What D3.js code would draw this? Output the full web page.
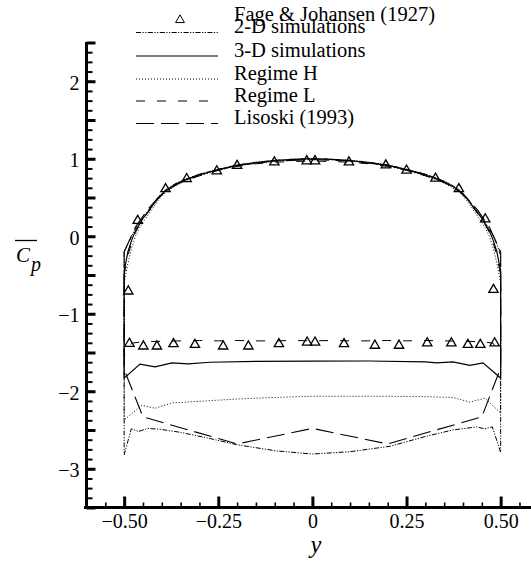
<!DOCTYPE html>
<html><head><meta charset="utf-8">
<script src="https://cdn.jsdelivr.net/npm/d3@7"></script>
<style>body{margin:0;background:#fff} svg{display:block}</style>
</head><body>
<script>
// ---------- DATA ----------
// front face (y from -0.5 to 0.5)
const frontY = [-0.5,-0.49,-0.48,-0.47,-0.46,-0.45,-0.43,-0.41,-0.39,-0.36,-0.33,-0.3,-0.25,-0.2,-0.15,-0.1,-0.05,0,0.05,0.1,0.15,0.2,0.25,0.3,0.33,0.36,0.39,0.41,0.43,0.45,0.46,0.47,0.48,0.49,0.5];
const sim2dFront = [-0.2,-0.1,0.0,0.1,0.17,0.24,0.37,0.5,0.6,0.69,0.75,0.8,0.865,0.92,0.955,0.98,0.995,1.005,0.995,0.98,0.955,0.92,0.865,0.8,0.75,0.69,0.6,0.5,0.37,0.24,0.17,0.1,0.0,-0.1,-0.25];
const sim3dFront = [-0.45,-0.2,-0.05,0.07,0.15,0.23,0.36,0.49,0.59,0.68,0.74,0.79,0.86,0.915,0.95,0.975,0.992,1.0,0.992,0.975,0.95,0.915,0.86,0.79,0.74,0.68,0.59,0.49,0.36,0.23,0.15,0.07,-0.05,-0.2,-0.45];
const regHFront  = [-0.6,-0.35,-0.15,0.0,0.1,0.18,0.32,0.46,0.57,0.66,0.73,0.78,0.85,0.905,0.945,0.97,0.985,0.99,0.985,0.97,0.945,0.905,0.85,0.78,0.73,0.66,0.57,0.46,0.32,0.18,0.1,0.0,-0.15,-0.35,-0.6];
const regLFront  = [-0.5,-0.25,-0.08,0.05,0.14,0.22,0.35,0.48,0.58,0.67,0.73,0.78,0.85,0.9,0.935,0.955,0.965,0.97,0.965,0.955,0.935,0.9,0.85,0.78,0.73,0.67,0.58,0.48,0.35,0.22,0.14,0.05,-0.08,-0.25,-0.5];
const lisFrontY  = [-0.5,-0.47,-0.44,-0.4,-0.35,-0.3,-0.2,-0.1,0,0.1,0.2,0.3,0.35,0.4,0.44,0.47,0.5];
const lisFront   = [-0.2,0.12,0.33,0.55,0.7,0.8,0.915,0.97,0.99,0.97,0.915,0.8,0.7,0.55,0.33,0.12,-0.2];

// rear face
const sim2dRearY = [-0.5,-0.481,-0.462,-0.438,-0.405,-0.351,-0.281,-0.201,-0.095,0,0.1,0.206,0.303,0.373,0.436,0.458,0.478,0.5];
const sim2dRear  = [-2.82,-2.485,-2.52,-2.48,-2.49,-2.53,-2.6,-2.69,-2.77,-2.81,-2.78,-2.71,-2.58,-2.5,-2.46,-2.485,-2.46,-2.79];
const sim3dRearY = [-0.5,-0.458,-0.418,-0.373,-0.33,-0.272,-0.15,0,0.15,0.3,0.33,0.373,0.418,0.453,0.5];
const sim3dRear  = [-1.83,-1.65,-1.685,-1.634,-1.646,-1.626,-1.615,-1.61,-1.61,-1.62,-1.634,-1.62,-1.665,-1.634,-1.83];
const regHRearY  = [-0.5,-0.453,-0.418,-0.373,-0.3,-0.2,-0.1,0,0.1,0.2,0.3,0.373,0.418,0.458,0.5];
const regHRear   = [-2.37,-2.18,-2.22,-2.15,-2.13,-2.1,-2.08,-2.065,-2.065,-2.065,-2.07,-2.08,-2.14,-2.09,-2.28];
const regLRearY  = [-0.5,-0.48,-0.45,-0.4,-0.35,-0.3,-0.25,-0.2,-0.15,-0.1,-0.05,0,0.05,0.1,0.15,0.2,0.25,0.3,0.35,0.4,0.45,0.48,0.5];
const regLRear   = [-1.55,-1.38,-1.36,-1.355,-1.35,-1.345,-1.35,-1.345,-1.35,-1.35,-1.345,-1.35,-1.345,-1.35,-1.35,-1.345,-1.35,-1.345,-1.35,-1.355,-1.36,-1.38,-1.55];
const lisRearY   = [-0.5,-0.45,-0.2,0,0.2,0.45,0.5];
const lisRear    = [-1.72,-2.33,-2.68,-2.48,-2.68,-2.33,-1.7];

// Fage & Johansen (1927) experiment
const fageFrontY = [-0.489,-0.464,-0.39,-0.334,-0.254,-0.2,-0.101,-0.015,0.007,0.097,0.195,0.25,0.327,0.389,0.459,0.481];
const fageFront  = [-0.71,0.2,0.61,0.74,0.84,0.91,0.955,0.97,0.97,0.955,0.916,0.85,0.745,0.61,0.22,-0.69];
const fageRearY  = [-0.486,-0.449,-0.413,-0.369,-0.312,-0.237,-0.17,-0.089,-0.014,0.007,0.084,0.166,0.23,0.305,0.369,0.413,0.446,0.484];
const fageRear   = [-1.385,-1.42,-1.42,-1.39,-1.4,-1.42,-1.42,-1.39,-1.37,-1.37,-1.39,-1.41,-1.41,-1.38,-1.38,-1.4,-1.4,-1.38];

const xTicksMajor = [-0.5,-0.25,0,0.25,0.5];
const xTickLabels = ["\u22120.50","\u22120.25","0","0.25","0.50"];
const yTicksLabels = [-3,-2,-1,0,1,2];
const legendLabels = ["Fage & Johansen (1927)","2-D simulations","3-D simulations","Regime H","Regime L","Lisoski (1993)"];

// ---------- CHART ----------
const FONT = '"Liberation Serif","Times New Roman",serif';
const W = 531, H = 563;
const svg = d3.select("body").append("svg").attr("width", W).attr("height", H)
  .attr("font-family", FONT).style("font-family", FONT);
const x = d3.scaleLinear().domain([-0.6, 0.6]).range([86.5, 538.3]);
const y = d3.scaleLinear().domain([-3.5, 2.5]).range([507.5, 42.5]);

const zip = (a, b) => a.map((v, i) => [v, b[i]]);
function loop(fy, fc, ry, rc) {
  const f = zip(fy, fc);
  const r = zip(ry, rc).reverse();
  return f.concat(r).concat([f[0]]);
}
const line = d3.line().x(d => x(d[0])).y(d => y(d[1]));

const series = [
  {name: legendLabels[1], pts: loop(frontY, sim2dFront, sim2dRearY, sim2dRear), dash: "5,1.5,1.2,1.5,1.2,1.5", w: 1},
  {name: legendLabels[2], pts: loop(frontY, sim3dFront, sim3dRearY, sim3dRear), dash: null, w: 1.2},
  {name: legendLabels[3], pts: loop(frontY, regHFront, regHRearY, regHRear), dash: "1,2", w: 1},
  {name: legendLabels[4], pts: loop(frontY, regLFront, regLRearY, regLRear), dash: "9,12", w: 1},
  {name: legendLabels[5], pts: loop(lisFrontY, lisFront, lisRearY, lisRear), dash: "18,7", w: 1.1}
];

const g = svg.append("g");
series.forEach(s => {
  g.append("path").attr("d", line(s.pts)).attr("fill", "none").attr("stroke", "#000")
    .attr("stroke-width", s.w).attr("stroke-dasharray", s.dash);
});

const tri = d3.symbol().type(d3.symbolTriangle).size(38);
const fagePts = zip(fageFrontY, fageFront).concat(zip(fageRearY, fageRear));
g.selectAll(".fage").data(fagePts).enter().append("path")
  .attr("d", tri).attr("transform", d => `translate(${x(d[0])},${y(d[1])})`)
  .attr("fill", "none").attr("stroke", "#000").attr("stroke-width", 1.3);

function styleText(sel, size, italic) {
  sel.attr("font-family", FONT).style("font-family", FONT).style("font-size", size + "px")
    .style("font-style", italic ? "italic" : "normal").attr("fill", "#000");
}

// axes
const xMinor = d3.range(-0.55, 0.601, 0.05).map(v => +v.toFixed(2));
svg.append("g").attr("transform", `translate(0,${y(-3.5)})`)
  .call(d3.axisBottom(x).tickValues(xMinor).tickSizeInner(-5).tickSizeOuter(0).tickFormat(""))
  .call(a => a.select(".domain").remove())
  .call(a => a.selectAll("line").attr("stroke-width", 1.6));
const xa = svg.append("g").attr("transform", `translate(0,${y(-3.5)})`)
  .call(d3.axisBottom(x).tickValues(xTicksMajor).tickSizeInner(-11).tickSizeOuter(0).tickPadding(6)
    .tickFormat((d, i) => xTickLabels[i]));
xa.attr("font-family", null);
xa.select(".domain").attr("stroke-width", 3).attr("d", `M84,0H${W}`);
xa.selectAll("line").attr("stroke-width", 3);
styleText(xa.selectAll("text"), 20, false);

const yMinor = d3.range(-3.5, 2.501, 0.125).map(v => +v.toFixed(3));
const yMajor = d3.range(-3.5, 2.501, 0.5).map(v => +v.toFixed(2));
svg.append("g").attr("transform", `translate(${x(-0.6)},0)`)
  .call(d3.axisLeft(y).tickValues(yMinor).tickSizeInner(-6).tickSizeOuter(0).tickFormat(""))
  .call(a => a.select(".domain").remove())
  .call(a => a.selectAll("line").attr("stroke-width", 2));
const ya = svg.append("g").attr("transform", `translate(${x(-0.6)},0)`)
  .call(d3.axisLeft(y).tickValues(yMajor).tickSizeInner(-9).tickSizeOuter(0).tickPadding(7)
    .tickFormat(d => yTicksLabels.includes(d) ? d3.format("d")(d) : ""));
ya.attr("font-family", null);
ya.select(".domain").attr("stroke-width", 3).attr("d", `M0,${y(2.5)-0.5}V${y(-3.5)+1.5}`);
ya.selectAll("line").attr("stroke-width", 3);
styleText(ya.selectAll("text"), 20, false);
ya.selectAll("text").attr("dy", "0.4em");

// axis titles
const yl = svg.append("text").attr("x", 16).attr("y", 262);
styleText(yl, 21, true);
yl.append("tspan").text("C");
yl.append("tspan").attr("dy", 9).attr("dx", 1).style("font-size", "20px").text("p");
svg.append("line").attr("x1", 15).attr("x2", 37).attr("y1", 240.5).attr("y2", 240.5).attr("stroke", "#000").attr("stroke-width", 1.3);
const xl = svg.append("text").attr("x", 316).attr("y", 553).attr("text-anchor", "middle").text("y");
styleText(xl, 24.5, true);

// legend
const lx0 = 136, lx1 = 218, tx = 234;
const rowBase = [21, 33, 56.5, 79.5, 101.5, 124];
const lg = svg.append("g");
lg.append("path").attr("d", d3.symbol().type(d3.symbolTriangle).size(34))
  .attr("transform", `translate(180,${rowBase[0] - 1})`)
  .attr("fill", "none").attr("stroke", "#000").attr("stroke-width", 1);
series.forEach((s, i) => {
  lg.append("line").attr("x1", lx0).attr("x2", lx1).attr("y1", rowBase[i + 1] - 0.5).attr("y2", rowBase[i + 1] - 0.5)
    .attr("stroke", "#000").attr("stroke-width", s.w).attr("stroke-dasharray", s.dash);
});
legendLabels.forEach((t, i) => {
  const tt = lg.append("text").attr("x", tx).attr("y", rowBase[i]).text(t);
  styleText(tt, 20.5, false);
});
</script>
</body></html>
